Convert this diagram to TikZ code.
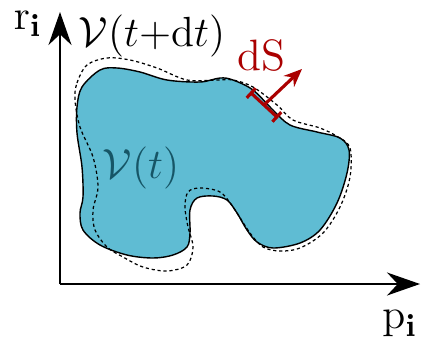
\documentclass[tikz,border=0pt]{standalone}
\usetikzlibrary{arrows.meta}
\definecolor{blobfill}{RGB}{95,188,211}
\definecolor{blobtext}{RGB}{22,85,102}
\definecolor{surf}{RGB}{170,0,0}

\begin{document}
\begin{tikzpicture}[
  x=0.1mm, y=-0.1mm,
  axis/.style={line width=0.6pt, -{Stealth[length=3.3mm, width=2.3mm]}},
  label/.style={font=\fontsize{12.5}{15}\selectfont, inner sep=0pt},
  border/.style={line width=0.4pt},
  shifted/.style={line width=0.35pt, dash pattern=on 0.9pt off 0.8pt},
  surface/.style={draw=surf, line width=0.9pt},
  normal/.style={surf, line width=0.9pt, -{Stealth[length=1.8mm, width=1.5mm]}}
]
\useasboundingbox (0,0) rectangle (422,349);

% axes
\coordinate (origin) at (60,284);
\coordinate (ytop) at (60,12);
\coordinate (xend) at (420,284);
\draw[axis] (origin) -- (ytop);
\draw[axis] (origin) -- (xend);
\node[label] (rlab) at (28,24) {$\mathrm{r}_{\mathbf{i}}$};
\node[label] (plab) at (400,324) {$\mathrm{p}_{\mathbf{i}}$};

% volume at time t
\draw[border, fill=blobfill] plot[smooth cycle, tension=0.55] coordinates {
  (77,107) (82,87) (100,70) (117,68) (140,72) (167,80) (200,82) (220,78)
  (233,80) (253,90) (273,110) (290,125) (317,132) (340,138) (349,150)
  (347,173) (337,203) (320,230) (300,243) (273,248) (257,242) (247,230)
  (237,213) (227,200) (213,196) (197,198) (190,210) (190,233) (187,247)
  (173,255) (153,258) (127,255) (100,245) (83,230) (80,213) (83,197)
  (82,167) (77,133)};

% volume at time t+dt
\draw[shifted] plot[smooth cycle, tension=0.55] coordinates {
  (75,100) (77,83) (87,65) (107,58) (130,60) (157,68) (187,80) (217,80)
  (233,80) (253,87) (277,105) (293,120) (320,128) (338,137) (350,148)
  (350,177) (340,207) (323,233) (300,248) (280,251) (263,247) (250,233)
  (233,207) (220,192) (200,188) (188,192) (185,207) (188,227) (193,247)
  (187,265) (167,271) (143,267) (123,257) (107,247) (95,230) (93,210)
  (98,187) (93,157) (80,127)};

\node[label] (vdt) at (152,36) {$\mathcal{V}(t{+}\mathrm{d}t)$};
\node[label, text=blobtext] (vt) at (141,168) {$\mathcal{V}(t)$};

% surface element
\coordinate (dsa) at (250,92);
\coordinate (dsb) at (278,118);
\coordinate (dsmid) at (264,105);
\coordinate (dstip) at (302,69);
\draw[surface, {Bar[width=1.3mm]}-{Bar[width=1.3mm]}] (dsa) -- (dsb);
\draw[normal] (dsmid) -- (dstip);
\node[label, text=surf] (dslab) at (261,55) {dS};
\end{tikzpicture}
\end{document}
